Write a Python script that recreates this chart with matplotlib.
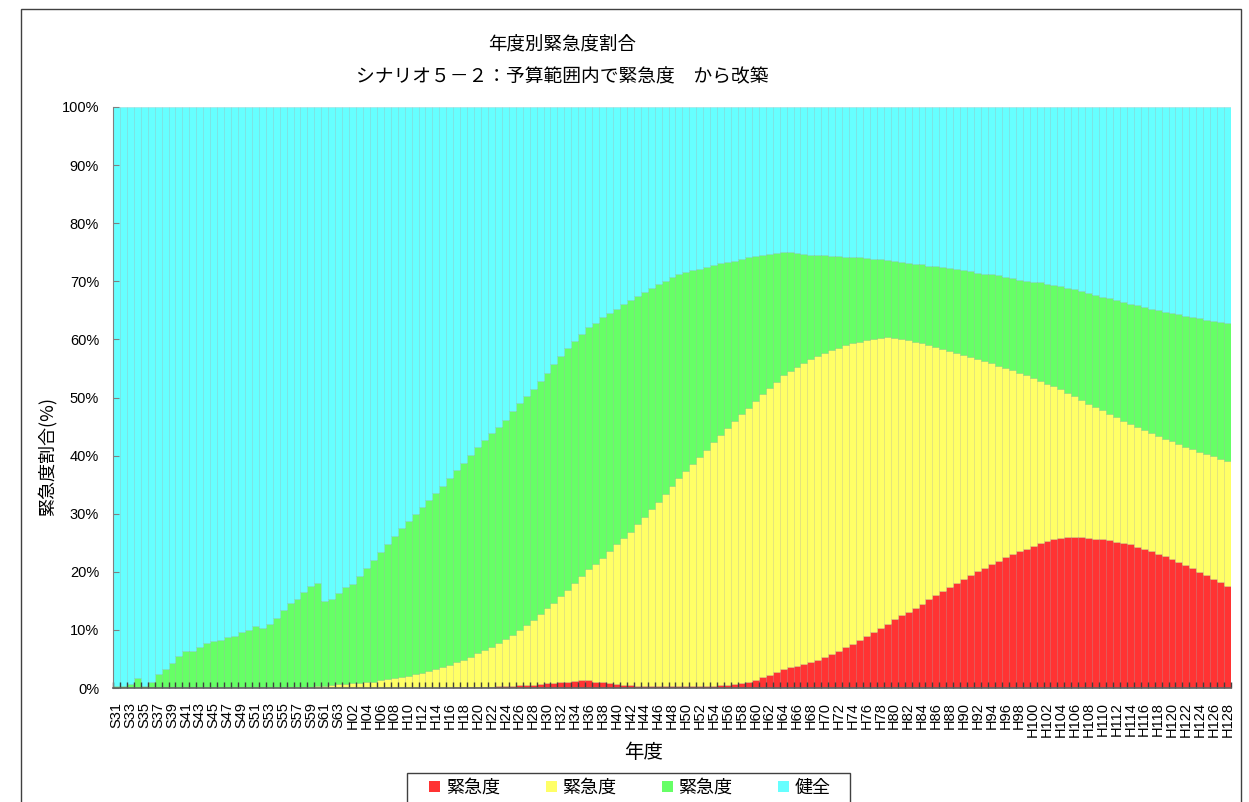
import numpy as np
import matplotlib
matplotlib.use('Agg')
import matplotlib.pyplot as plt
from matplotlib.patches import Rectangle, Patch

# fiscal years S31..S63, H01..H128
years = ['S%02d' % y for y in range(31, 64)] + ['H%02d' % y for y in range(1, 129)]

# upper edge (%) of each stacked band
red_top = [0] * 48 + [
    0.05, 0.1, 0.1, 0.15, 0.2, 0.2, 0.25, 0.3, 0.3, 0.4, 0.45, 0.5,
    0.6, 0.7, 0.8, 0.9, 1.05, 1.1, 1.2, 1.3, 1.4, 1.1, 0.95, 0.8,
    0.75, 0.6, 0.45, 0.4, 0.35, 0.35, 0.35, 0.35, 0.35, 0.35, 0.35, 0.35,
    0.35, 0.35, 0.4, 0.45, 0.5, 0.7, 0.8, 1.0, 1.4, 1.9, 2.2, 2.7,
    3.2, 3.6, 3.8, 4.1, 4.5, 4.9, 5.3, 5.85, 6.4, 7.0, 7.6, 8.3,
    8.9, 9.6, 10.4, 11.1, 11.8, 12.5, 13.1, 13.8, 14.5, 15.3, 16.0, 16.7,
    17.4, 18.1, 18.8, 19.4, 20.1, 20.7, 21.4, 21.9, 22.5, 23.1, 23.6, 24.0,
    24.5, 24.9, 25.3, 25.6, 25.9, 26.0, 26.05, 26.0, 25.9, 25.7, 25.6, 25.5,
    25.2, 25.0, 24.7, 24.3, 24.0, 23.6, 23.1, 22.7, 22.2, 21.7, 21.2, 20.6,
    20.0, 19.4, 18.8, 18.2, 17.5]

yellow_top = [0] * 25 + [
    0.1, 0.15, 0.2, 0.25, 0.3, 0.4, 0.55, 0.65, 0.7, 0.8, 0.9, 1.0,
    1.1, 1.3, 1.5, 1.7, 1.9, 2.1, 2.4, 2.6, 2.9, 3.2, 3.6, 4.0,
    4.4, 4.9, 5.4, 6.0, 6.5, 7.1, 7.7, 8.4, 9.2, 10.0, 10.8, 11.7,
    12.7, 13.7, 14.7, 15.8, 16.9, 18.0, 19.2, 20.4, 21.4, 22.4, 23.5, 24.7,
    25.8, 26.9, 28.2, 29.4, 30.8, 32.0, 33.4, 34.8, 36.2, 37.4, 38.6, 39.8,
    41.0, 42.3, 43.5, 44.7, 46.0, 47.1, 48.2, 49.4, 50.6, 51.7, 52.7, 53.9,
    54.6, 55.3, 55.9, 56.6, 57.1, 57.6, 58.1, 58.6, 59.0, 59.3, 59.6, 59.9,
    60.1, 60.3, 60.4, 60.3, 60.1, 59.9, 59.6, 59.3, 59.0, 58.7, 58.3, 58.0,
    57.7, 57.3, 56.9, 56.6, 56.2, 55.9, 55.5, 55.1, 54.7, 54.3, 53.8, 53.4,
    52.9, 52.3, 51.9, 51.4, 50.8, 50.2, 49.6, 48.9, 48.4, 47.8, 47.2, 46.6,
    46.0, 45.4, 44.9, 44.4, 43.9, 43.4, 42.9, 42.5, 42.0, 41.5, 41.1, 40.7,
    40.3, 39.9, 39.5, 39.0]

green_top = [
    0.3, 0.3, 0.7, 1.8, 0.4, 1.1, 2.4, 3.3, 4.3, 5.5, 6.4, 6.4,
    7.1, 7.7, 8.1, 8.3, 8.7, 8.9, 9.6, 9.9, 10.6, 10.4, 11.1, 12.0,
    13.4, 14.6, 15.4, 16.5, 17.6, 18.0, 15.0, 15.4, 16.3, 17.4, 17.9, 19.2,
    20.6, 22.0, 23.4, 24.8, 26.1, 27.5, 28.8, 29.9, 31.1, 32.3, 33.6, 34.7,
    36.1, 37.5, 38.8, 40.1, 41.4, 42.7, 43.9, 45.0, 46.2, 47.6, 49.0, 50.2,
    51.5, 52.9, 54.3, 55.7, 57.1, 58.5, 59.7, 60.9, 62.1, 62.9, 63.8, 64.5,
    65.3, 66.1, 66.8, 67.5, 68.2, 68.8, 69.5, 70.1, 70.7, 71.3, 71.6, 71.9,
    72.2, 72.5, 72.8, 73.1, 73.3, 73.5, 73.8, 74.1, 74.4, 74.5, 74.7, 74.9,
    75.1, 75.0, 74.9, 74.7, 74.6, 74.55, 74.5, 74.4, 74.3, 74.2, 74.1, 74.1,
    74.0, 73.9, 73.8, 73.7, 73.5, 73.3, 73.2, 73.0, 72.9, 72.7, 72.6, 72.4,
    72.3, 72.1, 71.9, 71.7, 71.5, 71.3, 71.2, 71.0, 70.7, 70.6, 70.3, 70.1,
    69.9, 69.8, 69.6, 69.4, 69.2, 68.9, 68.6, 68.3, 68.0, 67.6, 67.3, 67.1,
    66.7, 66.4, 66.1, 65.9, 65.5, 65.2, 65.0, 64.8, 64.5, 64.3, 64.1, 63.9,
    63.6, 63.4, 63.2, 63.0, 62.8]

legend_labels = ['緊急度', '緊急度', '緊急度', '健全']
colors = ['#ff3333', '#ffff66', '#66ff66', '#66ffff']

red_top = np.array(red_top, dtype=float)
yellow_top = np.array(yellow_top, dtype=float)
green_top = np.array(green_top, dtype=float)

# shares of each band
shares = [red_top, yellow_top - red_top, green_top - yellow_top, 100 - green_top]

jp = 'Noto Sans CJK JP'
num = 'Liberation Sans'
W, H = 1249, 802

fig = plt.figure(figsize=(W / 100, H / 100), dpi=100)
ax = fig.add_axes([113 / W, 1 - 688 / H, 1118 / W, 581 / H])

x = np.arange(len(years))
bottom = np.zeros(len(years))
for s, c in zip(shares, colors):
    ax.bar(x, s, bottom=bottom, width=1.0, color=c,
           edgecolor=(0, 0, 0, 0.10), linewidth=0.5)
    bottom += s

ax.set_xlim(-0.5, len(years) - 0.5)
ax.set_ylim(0, 100)
ax.set_yticks(range(0, 101, 10))
ax.set_yticklabels(['%d%%' % v for v in range(0, 101, 10)], fontfamily=num, fontsize=10.5)
ax.set_xticks(x[::2])
ax.set_xticklabels(years[::2], rotation=90, fontfamily=num, fontsize=10.5)
ax.set_xticks(np.arange(-0.5, len(years), 1), minor=True)
ax.tick_params(axis='x', which='major', length=0, pad=10)
ax.tick_params(axis='x', which='minor', direction='in', length=4, width=1, color='#404040')
ax.tick_params(axis='y', direction='in', length=4, color='#808080', pad=10)
for sp in ['top', 'right']:
    ax.spines[sp].set_visible(False)
ax.spines['left'].set_color('#808080')
ax.spines['bottom'].set_color('#606060')
ax.spines['bottom'].set_linewidth(1.2)

fig.text(562 / W, 1 - 45 / H, '年度別緊急度割合', fontfamily=jp, fontsize=13.3,
         ha='center', va='center')
fig.text(562 / W, 1 - 77 / H, 'シナリオ５－２：予算範囲内で緊急度　から改築', fontfamily=jp,
         fontsize=13.5, ha='center', va='center')
fig.text(47 / W, 1 - 457 / H, '緊急度割合(%)', fontfamily=jp, fontsize=13,
         rotation=90, ha='center', va='center')
fig.text(644 / W, 1 - 752 / H, '年度', fontfamily=jp, fontsize=14,
         ha='center', va='center')

handles = [Patch(facecolor=c, edgecolor='none') for c in colors]
leg = fig.legend(handles, legend_labels, loc='center', ncol=4,
                 bbox_to_anchor=(630 / W, 1 - 788 / H), frameon=False,
                 prop={'family': jp, 'size': 13},
                 handlelength=0.6, handleheight=0.6, handletextpad=0.3,
                 columnspacing=2.55, borderpad=0.0, borderaxespad=0.0)

# legend box, runs past the bottom edge as in the source
fig.patches.append(Rectangle((407 / W, -0.05), 443 / W, 0.05 + 1 - 773 / H,
                             transform=fig.transFigure, fill=False,
                             edgecolor='#404040', linewidth=1.0))

# chart area border
fig.patches.append(Rectangle((21 / W, -0.05), 1220 / W, 1.05 - 9 / H,
                             transform=fig.transFigure, fill=False,
                             edgecolor='#404040', linewidth=1.0))

fig.savefig('out.png', dpi=100)
